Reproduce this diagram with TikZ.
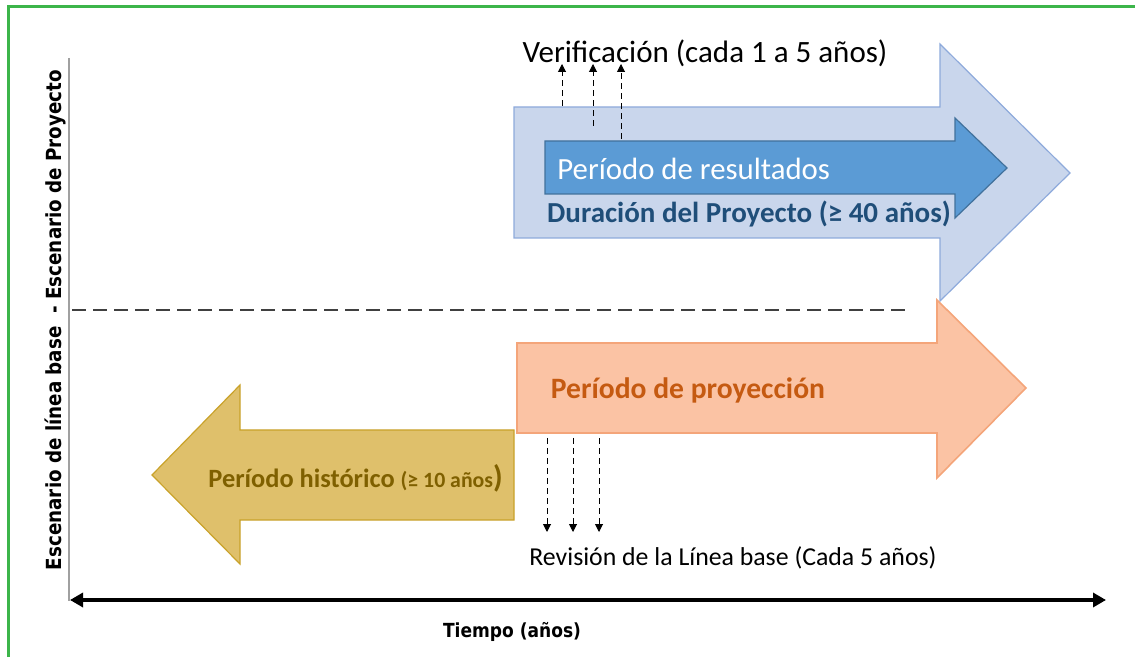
\documentclass[tikz,border=0pt]{standalone}
\usepackage{fontspec}
\setmainfont{Carlito}
\newfontfamily\axisfont[FakeStretch=0.88]{DejaVu Sans}
\usetikzlibrary{arrows.meta}
\definecolor{frameg}{HTML}{3CB54A}
\definecolor{bigfill}{HTML}{C9D6EC}
\definecolor{bigline}{HTML}{8EAADB}
\definecolor{innerfill}{HTML}{5B9BD5}
\definecolor{innerline}{HTML}{41719C}
\definecolor{durtext}{HTML}{1F4E79}
\definecolor{orfill}{HTML}{FBC3A4}
\definecolor{orline}{HTML}{F4A57A}
\definecolor{ortext}{HTML}{C55A11}
\definecolor{goldfill}{HTML}{DFC06B}
\definecolor{goldline}{HTML}{C9A22A}
\definecolor{goldtext}{HTML}{7F6000}
\definecolor{axgray}{HTML}{A0A0A0}
\tikzset{
  tick/.style={densely dashed, line width=0.5pt, -{Triangle[width=4pt,length=4pt]}},
  lbl/.style={inner sep=0pt, anchor=center},
}
\begin{document}
\begin{tikzpicture}[x=0.5pt,y=-0.5pt]
\useasboundingbox (0,0) rectangle (1135,657);
% frame
\draw[frameg, line width=1.5pt] (8,660) -- (8,7) -- (1140,7);
% vertical axis
\draw[axgray, line width=0.8pt] (69,58) -- (69,601);
% big light blue arrow
\draw[bigline, fill=bigfill, line width=0.6pt]
  (514,107) -- (940,107) -- (940,44) -- (1070,173) -- (940,301) -- (940,238) -- (514,238) -- cycle;
% inner arrow
\draw[innerline, fill=innerfill, line width=0.6pt]
  (545,141) -- (955,141) -- (955,118) -- (1007,168) -- (955,218) -- (955,194) -- (545,194) -- cycle;
% orange arrow
\draw[orline, fill=orfill, line width=0.8pt]
  (517,343) -- (937,343) -- (937,300) -- (1026,388) -- (937,478) -- (937,433) -- (517,433) -- cycle;
% gold arrow
\draw[goldline, fill=goldfill, line width=0.6pt]
  (514,430) -- (240,430) -- (240,385) -- (152,475) -- (240,564) -- (240,520) -- (514,520) -- cycle;
% dashed separator
\draw[black!75, dashed, dash pattern=on 7pt off 3.5pt, line width=0.6pt] (72,310) -- (905,310);
% time axis
\coordinate (axL) at (70,600);
\coordinate (axR) at (1106,600);
\draw[line width=2pt, {Triangle[length=6.5pt,width=7pt]}-{Triangle[length=6.5pt,width=7pt]}] (axL) -- (axR);
% texts
\node[lbl, font=\fontsize{15.5}{18}\selectfont] (verif) at (705,53) {Verificación (cada 1 a 5 años)};
\node[lbl, anchor=west, text=white, font=\fontsize{15.4}{18}\selectfont] (res) at (557,169) {Período de resultados};
\node[lbl, text=durtext, font=\bfseries\fontsize{14.5}{17}\selectfont] (dur) at (749,214) {Duración del Proyecto (≥ 40 años)};
\node[lbl, text=ortext, font=\bfseries\fontsize{14.8}{17}\selectfont] (proy) at (688,390) {Período de proyección};
\node[lbl, anchor=west, text=goldtext, font=\bfseries\fontsize{13.2}{15}\selectfont] (hist) at (208,478) {Período histórico {\fontsize{10.9}{13}\selectfont(≥ 10 años}{\fontsize{15.5}{16}\selectfont)}};
\node[lbl, font=\fontsize{12.9}{15}\selectfont] (rev) at (733,558) {Revisión de la Línea base (Cada 5 años)};
\node[lbl, font=\axisfont\bfseries\fontsize{9.7}{11}\selectfont] (tiempo) at (512,632) {Tiempo (años)};
\node[lbl, rotate=90, font=\axisfont\bfseries\fontsize{10.4}{12}\selectfont] (esc) at (55,320) {Escenario de línea base\ \ - Escenario de Proyecto};
% verification ticks
\coordinate (v1a) at (562,106); \coordinate (v1b) at (562,64);
\coordinate (v2a) at (593,126); \coordinate (v2b) at (593,64);
\coordinate (v3a) at (621,139); \coordinate (v3b) at (621,64);
\draw[tick] (v1a) -- (v1b);
\draw[tick] (v2a) -- (v2b);
\draw[tick] (v3a) -- (v3b);
% revision ticks
\coordinate (r1a) at (547,438); \coordinate (r1b) at (547,532);
\coordinate (r2a) at (573,438); \coordinate (r2b) at (573,532);
\coordinate (r3a) at (599,438); \coordinate (r3b) at (599,532);
\draw[tick] (r1a) -- (r1b);
\draw[tick] (r2a) -- (r2b);
\draw[tick] (r3a) -- (r3b);
\end{tikzpicture}
\end{document}
